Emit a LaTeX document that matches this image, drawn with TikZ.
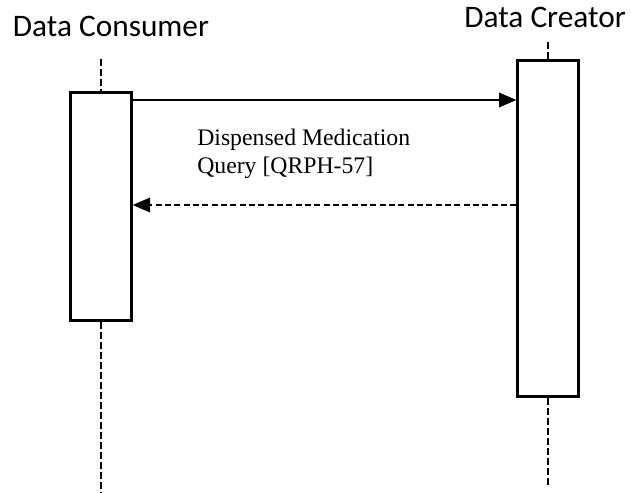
\documentclass[tikz,border=0pt]{standalone}
\usepackage{fontspec}
\setmainfont{Liberation Serif}
\newfontfamily\actorfont{Carlito}
\usetikzlibrary{arrows.meta}

\tikzset{
  actor/.style={anchor=base,inner sep=0pt,font=\actorfont\fontsize{23.5}{28}\selectfont},
  actbox/.style={draw,line width=2pt,fill=white,inner sep=0pt,minimum width=45.5pt},
  life/.style={line width=1.2pt,dash pattern=on 5pt off 2.5pt},
  msg/.style={line width=0.8pt,-{Triangle[length=13pt,width=11pt]}},
  reply/.style={msg,dash pattern=on 4.5pt off 2.5pt}
}

\begin{document}
\begin{tikzpicture}[x=0.75pt,y=-0.75pt]
		\useasboundingbox (0,0) rectangle (631,492);
		% actors
		\node[actor] (consName) at (111,37) {Data Consumer};
		\node[actor] (creaName) at (545,28) {Data Creator};
		% activation boxes
		\node[actbox,minimum height=171pt] (cons) at (101,206.5) {};
		\node[actbox,minimum height=252pt] (crea) at (548,228.5) {};
		% lifelines
		\coordinate (consTop) at (101,59);
		\coordinate (consEnd) at (101,492);
		\coordinate (creaTop) at (548,42);
		\coordinate (creaEnd) at (548,485);
		\draw[life] (consTop) -- (cons.north);
		\draw[life] (cons.south) -- (consEnd);
		\draw[life] (creaTop) -- (crea.north);
		\draw[life] (crea.south) -- (creaEnd);
		% messages
		\draw[msg] (cons.east |- 0,100) -- (crea.west |- 0,100);
		\draw[reply] (crea.west |- 0,205) -- (cons.east |- 0,205);
		\node[anchor=north west,inner sep=0pt,align=left,font=\fontsize{17.8}{21}\selectfont] (query) at (197,129) {Dispensed Medication\\Query [QRPH-57]};
\end{tikzpicture}
\end{document}
